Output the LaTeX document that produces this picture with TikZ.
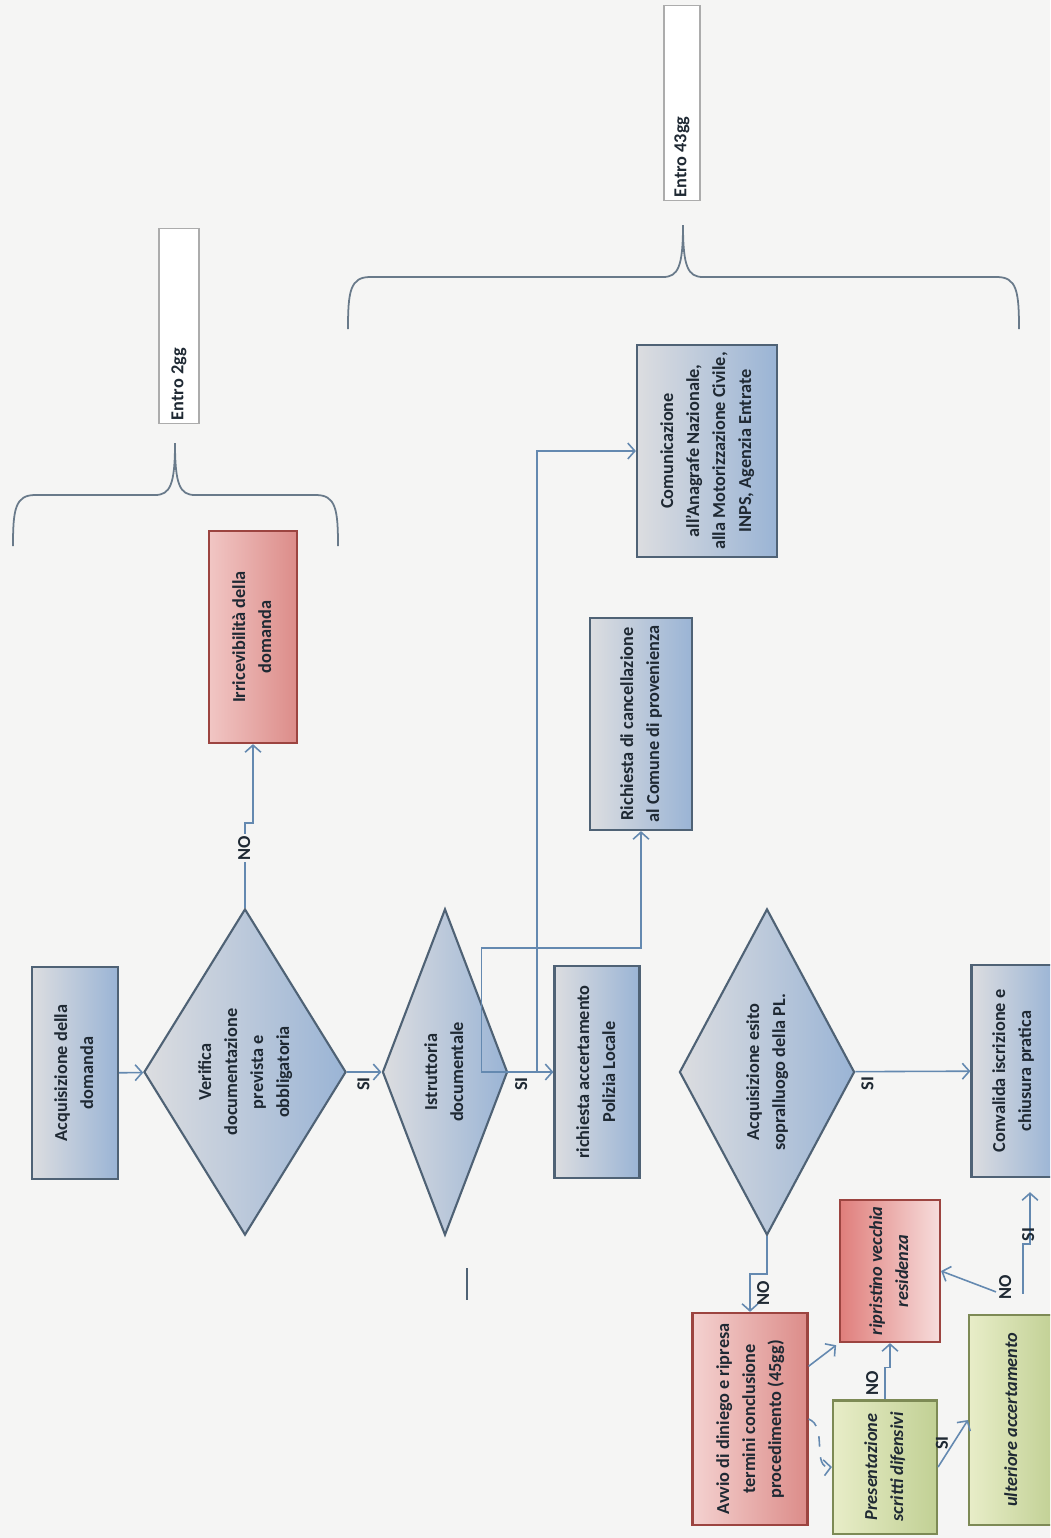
\documentclass[tikz,border=0pt]{standalone}
\usepackage{fontspec}
\setmainfont{Carlito}
\usetikzlibrary{shapes.geometric,arrows.meta}

\definecolor{paper}{HTML}{F5F5F4}
\definecolor{ink}{HTML}{1F2933}
\definecolor{frame}{HTML}{4F6275}
\definecolor{wire}{HTML}{6489B0}
\definecolor{greyL}{HTML}{DCDDE0}
\definecolor{blueR}{HTML}{9AB4D5}
\definecolor{redL}{HTML}{F1C6C4}
\definecolor{redR}{HTML}{DC8C89}
\definecolor{redF}{HTML}{9C4440}
\definecolor{greenL}{HTML}{E8EDC8}
\definecolor{greenR}{HTML}{C1D094}
\definecolor{greenF}{HTML}{7D8A55}

\newcommand{\vtext}[1]{\rotatebox{90}{\begin{tabular}{@{}c@{}}#1\end{tabular}}}

\begin{document}
\begin{tikzpicture}[x=0.01cm, y=-0.01cm,
  >={Straight Barb[length=2pt,width=4.5pt]},
  txt/.style={font=\fontsize{5.2}{7.4}\selectfont\bfseries, text=ink, inner sep=1pt},
  bluebox/.style={txt, rectangle, draw=frame, line width=0.6pt, left color=greyL, right color=blueR, minimum height=2.12cm},
  redbox/.style={txt, rectangle, draw=redF, line width=0.6pt, left color=redL, right color=redR},
  greenbox/.style={txt, rectangle, draw=greenF, line width=0.6pt, left color=greenL, right color=greenR, font=\fontsize{5.2}{7.4}\selectfont\bfseries\itshape},
  choice/.style={txt, diamond, draw=frame, line width=0.6pt, left color=greyL, right color=blueR, inner sep=0pt, minimum height=3.26cm},
  wire/.style={draw=wire, line width=0.45pt},
  lbl/.style={txt, inner sep=0.5pt},
  timebox/.style={txt, rectangle, draw=gray!65, line width=0.3pt, fill=white, inner sep=0.03cm},
  brace/.style={draw=frame!85, line width=0.5pt}
]
  \useasboundingbox (0,0) rectangle (1050,1538);
  \clip (0,0) rectangle (1050,1538);
  \fill[paper] (0,0) rectangle (1050,1538);

  % main line
  \node (acq) [bluebox, minimum width=0.86cm] at (75,1073) {\vtext{Acquisizione della\\domanda}};
  \node (verif) [choice, minimum width=2.02cm, shape aspect=0.6] at (245,1072) {\vtext{Verifica\\documentazione\\prevista e\\obbligatoria}};
  \node (istr) [choice, minimum width=1.25cm, shape aspect=0.38] at (445,1072) {\vtext{Istruttoria\\documentale}};
  \node (pl) [bluebox, minimum width=0.85cm] at (597,1072) {\vtext{richiesta accertamento\\Polizia Locale}};
  \node (esito) [choice, minimum width=1.75cm, shape aspect=0.53] at (767,1072) {\vtext{Acquisizione esito\\sopralluogo della PL.}};
  \node (conv) [bluebox, minimum width=0.83cm] at (1013,1071) {\vtext{Convalida iscrizione e\\chiusura pratica}};

  \node (irric) [redbox, minimum width=0.88cm, minimum height=2.12cm] at (253,637) {\vtext{Irricevibilità della\\domanda}};
  \node (canc) [bluebox, minimum width=1.02cm] at (641,724) {\vtext{Richiesta di cancellazione\\al Comune di provenienza}};
  \node (com) [bluebox, minimum width=1.40cm] at (707,451) {\vtext{Comunicazione\\all'Anagrafe Nazionale,\\alla Motorizzazione Civile,\\INPS, Agenzia Entrate}};

  % ramo del diniego
  \node (avvio) [redbox, minimum width=1.15cm, minimum height=2.12cm, left color=redL!80!white, right color=redR] at (750,1419) {\vtext{Avvio di diniego e ripresa\\termini conclusione\\procedimento (45gg)}};
  \node (ripr) [redbox, minimum width=1.00cm, minimum height=1.42cm, left color=redR!90!red, right color=redL!60!white, font=\fontsize{5.2}{7.4}\selectfont\bfseries\itshape] at (890,1271) {\vtext{ripristino vecchia\\residenza}};
  \node (pres) [greenbox, minimum width=1.04cm, minimum height=1.33cm] at (885,1467) {\vtext{Presentazione\\scritti difensivi}};
  \node (ult) [greenbox, minimum width=0.86cm, minimum height=2.10cm] at (1012,1420) {\vtext{ulteriore accertamento}};

  \node (e2) [timebox, minimum width=0.40cm] at (179,326) {\rotatebox{90}{\makebox[1.88cm][l]{Entro 2gg}}};
  \node (e43) [timebox, minimum width=0.36cm] at (682,103) {\rotatebox{90}{\makebox[1.89cm][l]{Entro 43gg}}};

  \draw[brace] (13,546) .. controls (13,510) and (15,495) .. (35,495) -- (155,495)
    .. controls (170,495) and (175,485) .. (175,443) .. controls (175,485) and (180,495) .. (195,495)
    -- (316,495) .. controls (336,495) and (338,510) .. (338,546);
  \draw[brace] (348,329) .. controls (348,292) and (350,277) .. (370,277) -- (663,277)
    .. controls (678,277) and (683,267) .. (683,225) .. controls (683,267) and (688,277) .. (703,277)
    -- (997,277) .. controls (1017,277) and (1019,292) .. (1019,329);

  \draw[wire, ->] (acq) -- (verif);
  \draw[wire, ->] (verif) -- (istr) node[lbl, midway, yshift=-0.12cm] {\vtext{SI}};
  \draw[wire, ->] (verif.north) -- ++(0,-85) node[lbl, fill=paper, pos=0.7] {\vtext{NO}} -| (irric);
  \draw[wire, ->] (istr) -- (pl) node[lbl, pos=0.3, yshift=-0.12cm] {\vtext{SI}};
  \draw[wire, ->] (istr.east) -- ++(-27,0) -- ++(0,-124) -| (canc);
  \coordinate (split) at (537,1072);
  \draw[wire, ->] (split) |- (com);
  \draw[wire, ->] (esito) -- (conv) node[lbl, pos=0.11, yshift=-0.12cm] {\vtext{SI}};
  \draw[wire, ->] (esito.south) -- ++(0,38) -| (avvio) node[lbl, pos=0.75, xshift=0.14cm] {\vtext{NO}};

  \draw[wire, ->, shorten >=1pt] (avvio.42) -- (ripr.south west);
  \draw[wire, ->, dashed] (avvio.east) to[out=-20, in=185] (pres.west);
  \draw[wire, ->] (pres.north) -- ++(0,-32) node[lbl, midway, xshift=-0.12cm] {\vtext{NO}} -| (ripr);
  \draw[wire, ->] (pres.east) -- (ult.west) node[lbl, pos=0.15, yshift=0.17cm] {\vtext{SI}};
  \draw[wire, ->] ([shift={(-0.16cm,0.22cm)}]ult.north) -- (ripr.east) node[lbl, pos=0, xshift=0.1cm, yshift=0.05cm] {\vtext{NO}};
  \draw[wire, ->, shorten >=4pt] ([shift={(0.11cm,0.2cm)}]ult.north) -- ++(0,-50) -| ([xshift=0.17cm]conv.south) node[lbl, pos=0, xshift=0.06cm, yshift=0.09cm] {\vtext{SI}};

  \draw[frame, line width=0.6pt] (467,1268) -- (467,1300);
\end{tikzpicture}
\end{document}
